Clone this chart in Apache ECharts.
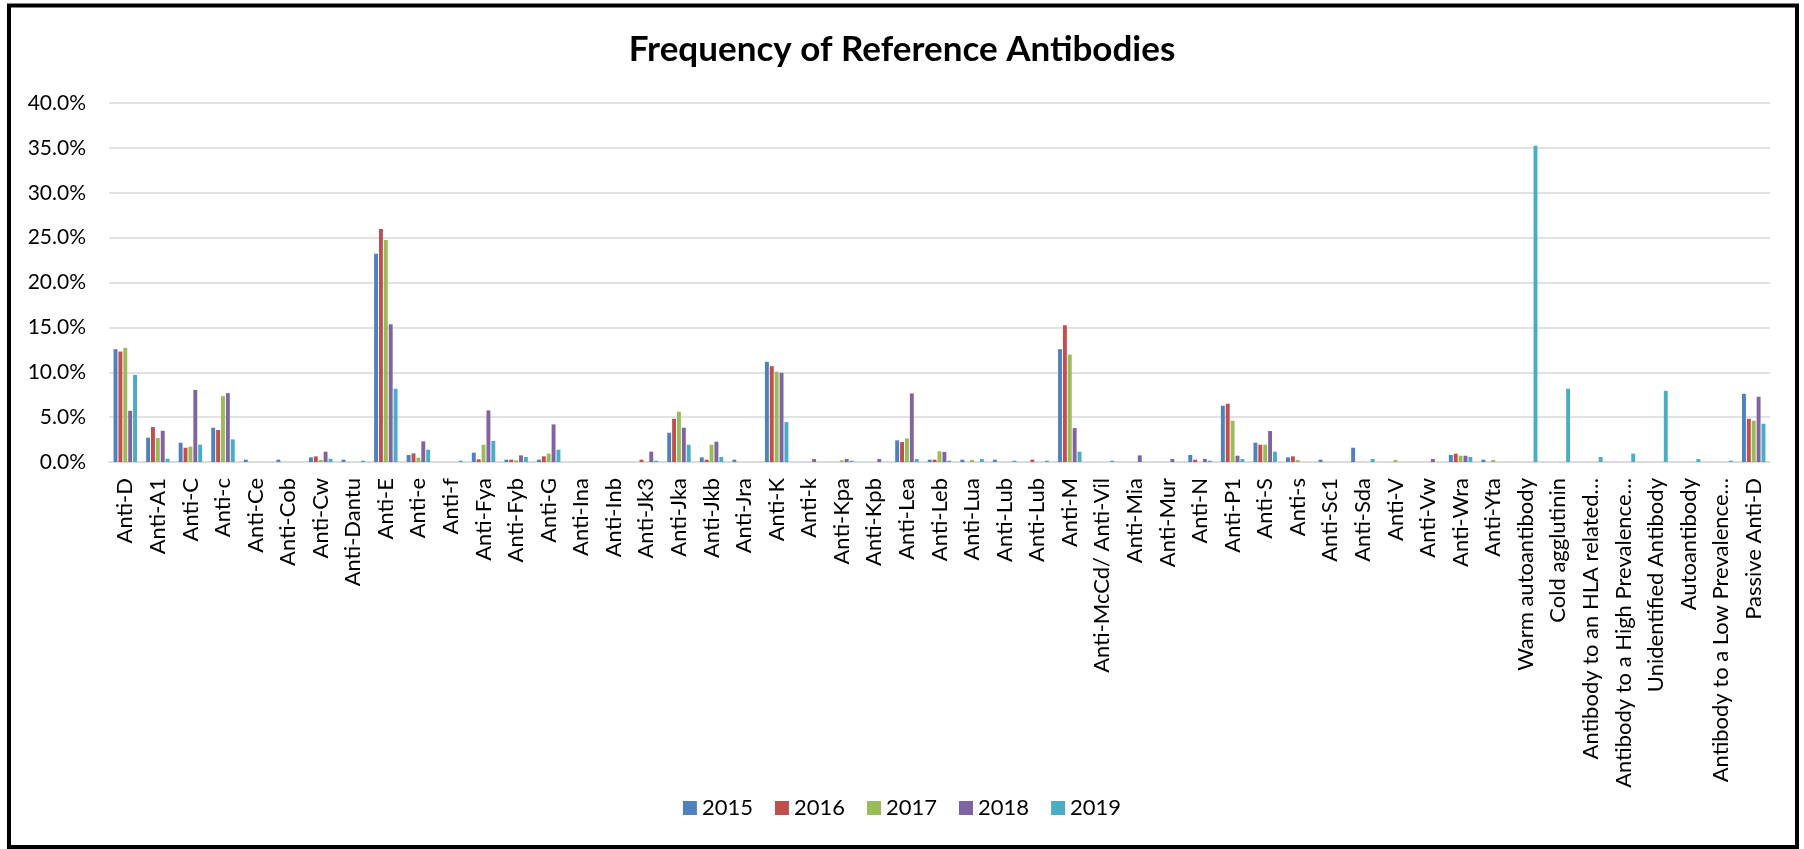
<!DOCTYPE html>
<html>
<head>
<meta charset="utf-8">
<title>Frequency of Reference Antibodies</title>
<script src="https://cdn.jsdelivr.net/npm/echarts@6/dist/echarts.min.js"></script>
<style>
  html, body { margin: 0; padding: 0; background: #fff; }
  #chart { width: 1804px; height: 849px; }
</style>
</head>
<body>
<div id="chart"></div>
<script>
// Antibody categories along the x axis
const categories = [
  'Anti-D', 'Anti-A1', 'Anti-C', 'Anti-c', 'Anti-Ce', 'Anti-Cob', 'Anti-Cw', 'Anti-Dantu',
  'Anti-E', 'Anti-e', 'Anti-f', 'Anti-Fya', 'Anti-Fyb', 'Anti-G', 'Anti-Ina', 'Anti-Inb',
  'Anti-Jk3', 'Anti-Jka', 'Anti-Jkb', 'Anti-Jra', 'Anti-K', 'Anti-k', 'Anti-Kpa', 'Anti-Kpb',
  'Anti-Lea', 'Anti-Leb', 'Anti-Lua', 'Anti-Lub', 'Anti-Lub', 'Anti-M', 'Anti-McCd/ Anti-Vil',
  'Anti-Mia', 'Anti-Mur', 'Anti-N', 'Anti-P1', 'Anti-S', 'Anti-s', 'Anti-Sc1', 'Anti-Sda',
  'Anti-V', 'Anti-Vw', 'Anti-Wra', 'Anti-Yta', 'Warm autoantibody', 'Cold agglutinin',
  'Antibody to an HLA related\u2026', 'Antibody to a High Prevalence\u2026', 'Unidentified Antibody',
  'Autoantibody', 'Antibody to a Low Prevalence\u2026', 'Passive Anti-D'
];

// Yearly frequencies, in percent
const y2015 = [12.57, 2.71, 2.15, 3.82, 0.26, 0.26, 0.52, 0.26, 23.2, 0.78, 0, 1.04, 0.26, 0.26, 0, 0,
  0, 3.26, 0.52, 0.26, 11.16, 0, 0, 0, 2.41, 0.26, 0.26, 0.26, 0, 12.57, 0,
  0, 0, 0.78, 6.27, 2.15, 0.52, 0.26, 1.59, 0, 0, 0.78, 0.26, 0, 0,
  0, 0, 0, 0, 0, 7.60];
const y2016 = [12.31, 3.89, 1.59, 3.56, 0, 0, 0.63, 0, 25.95, 0.96, 0, 0.30, 0.26, 0.63, 0, 0,
  0.26, 4.82, 0.26, 0, 10.68, 0, 0, 0, 2.22, 0.26, 0, 0, 0.26, 15.24, 0,
  0, 0, 0.26, 6.49, 1.93, 0.63, 0, 0, 0, 0, 0.93, 0, 0, 0,
  0, 0, 0, 0, 0, 4.82];
const y2017 = [12.72, 2.67, 1.71, 7.34, 0, 0, 0.22, 0, 24.73, 0.48, 0, 1.93, 0.19, 0.93, 0, 0,
  0, 5.60, 1.93, 0, 10.05, 0, 0.19, 0, 2.63, 1.19, 0.22, 0, 0, 11.97, 0,
  0, 0, 0, 4.60, 1.93, 0.22, 0, 0, 0.22, 0, 0.70, 0.22, 0, 0,
  0, 0, 0, 0, 0, 4.60];
const y2018 = [5.71, 3.48, 8.04, 7.67, 0, 0, 1.15, 0, 15.35, 2.30, 0, 5.75, 0.74, 4.19, 0, 0,
  1.15, 3.82, 2.26, 0, 9.94, 0.33, 0.33, 0.33, 7.64, 1.11, 0, 0, 0, 3.78, 0,
  0.74, 0.33, 0.33, 0.70, 3.45, 0, 0, 0, 0, 0.33, 0.70, 0, 0, 0,
  0, 0, 0, 0, 0, 7.27];
const y2019 = [9.71, 0.37, 1.93, 2.52, 0, 0, 0.37, 0.15, 8.16, 1.37, 0.15, 2.34, 0.56, 1.37, 0, 0,
  0.15, 1.93, 0.56, 0, 4.45, 0, 0.15, 0, 0.33, 0.15, 0.33, 0.15, 0.15, 1.15, 0.15,
  0, 0, 0.15, 0.33, 1.15, 0, 0, 0.33, 0, 0, 0.56, 0, 35.25, 8.16,
  0.56, 0.93, 7.93, 0.33, 0.15, 4.26];

const seriesNames = ['2015', '2016', '2017', '2018', '2019'];
const seriesData = [y2015, y2016, y2017, y2018, y2019];
const colors = ['#4F81BD', '#C0504D', '#9BBB59', '#8064A2', '#4BACC6'];

// Percent axis ticks
const yMin = 0, yMax = 40, yStep = 5;

const font = 'Lato, "Open Sans", sans-serif';

const chart = echarts.init(document.getElementById('chart'), null, { renderer: 'canvas' });

chart.setOption({
  backgroundColor: '#ffffff',
  animation: false,
  color: colors,
  title: {
    text: 'Frequency of Reference Antibodies',
    left: 'center',
    top: 27,
    textStyle: { fontFamily: font, fontWeight: 'bold', fontSize: 35, color: '#000' }
  },
  legend: {
    bottom: 25,
    left: 'center',
    icon: 'rect',
    itemWidth: 14,
    itemHeight: 14,
    itemGap: 22,
    textStyle: { fontFamily: font, fontSize: 22, color: '#000' },
    data: seriesNames
  },
  grid: { left: 109, right: 34, top: 103, bottom: 387, containLabel: false },
  xAxis: {
    type: 'category',
    data: categories,
    axisLine: { lineStyle: { color: '#d9d9d9', width: 1.5 } },
    axisTick: { show: false },
    axisLabel: {
      interval: 0,
      rotate: 90,
      margin: 16,
      fontFamily: font,
      fontSize: 22,
      color: '#000'
    }
  },
  yAxis: {
    type: 'value',
    min: yMin,
    max: yMax,
    interval: yStep,
    axisLine: { show: false },
    axisTick: { show: false },
    splitLine: { lineStyle: { color: '#d9d9d9', width: 1.5 } },
    axisLabel: {
      margin: 23,
      fontFamily: font,
      fontSize: 21,
      color: '#000',
      formatter: v => v.toFixed(1) + '%'
    }
  },
  series: seriesNames.map((name, i) => ({
    name,
    type: 'bar',
    data: seriesData[i],
    barGap: '25%',
    barCategoryGap: '28%',
    itemStyle: { color: colors[i] }
  })),
  graphic: [{
    type: 'rect',
    shape: { x: 9, y: 5.5, width: 1788, height: 841.5 },
    style: { fill: 'none', stroke: '#000', lineWidth: 4 },
    silent: true,
    z: 100
  }]
});
</script>
</body>
</html>
